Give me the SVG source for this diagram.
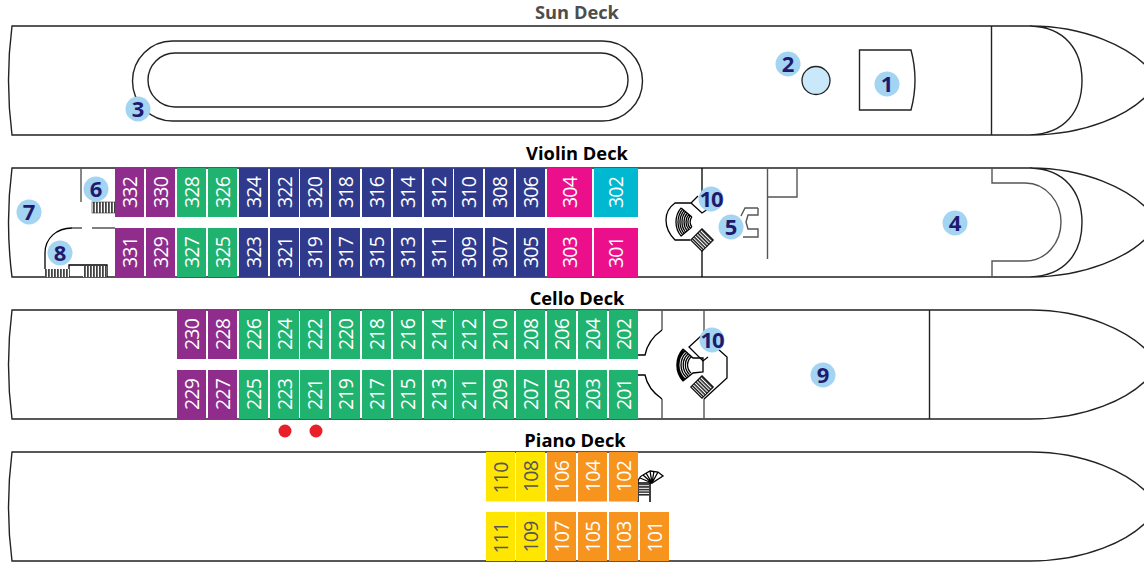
<svg xmlns="http://www.w3.org/2000/svg" width="1144" height="562" viewBox="0 0 1144 562">
<style>
text{font-family:"Open Sans","Liberation Sans",sans-serif}
.t{font-weight:700;font-size:18.300px;text-anchor:middle;fill:#000}
.l{fill:none;stroke:#222;stroke-width:1.4}
.w{fill:none;stroke:#555;stroke-width:1.4}
.k{fill:none;stroke:#000;stroke-width:1.3}
.c{font-size:19.500px;font-weight:500;letter-spacing:-.8px;text-anchor:middle;fill:#fff}
.cy{font-size:19.500px;font-weight:500;letter-spacing:-.8px;text-anchor:middle;fill:#555}
.p{fill:#8f2c8c}.g{fill:#1fb36f}.n{fill:#2f3a8c}.m{fill:#ec0f8c}.u{fill:#00b8d0}.y{fill:#ffe600}.o{fill:#f7941e}
.b{fill:#a3d4f2}
.bt{font-size:22px;font-weight:700;text-anchor:middle;fill:#1f1a6e}
</style>
<defs>
<pattern id="st" width="3" height="3" patternUnits="userSpaceOnUse"><rect width="3" height="3" fill="#fff"/><rect width="1.8" height="3" fill="#444"/></pattern>
<pattern id="sh" width="2.600" height="2.600" patternUnits="userSpaceOnUse"><rect width="2.600" height="2.600" fill="#fff"/><rect width="2.600" height="1.500" fill="#222"/></pattern>
</defs>
<g id="connectors">
<path class="l" d="M1030,26H12Q5,80 12,135H1030"/>
<path class="l" d="M1030,26C1085,26 1130,47 1150,70M1150,92C1130,115 1085,135 1030,135M1030,26C1065,27 1082,50 1082,80.500C1082,111 1065,134 1030,135M991.500,26V135"/>
<rect class="l" x="132.500" y="41" width="510" height="80" rx="40"/>
<rect class="l" x="148" y="53" width="480" height="54" rx="27"/>
<path class="l" d="M1030,168H12Q5,222 12,277H1030"/>
<path class="l" d="M1030,168C1085,168 1130,189 1150,212M1150,234C1130,257 1085,277 1030,277M1030,168C1065,169 1082,192 1082,222.500C1082,253 1065,276 1030,277"/>
<path class="w" d="M992,168V183H1025C1047,183 1061,203 1061,222C1061,242 1047,261 1025,261H992V277M81,168V202M72,228H82M92,228H115M767.500,168V259M767.500,197H797V168"/>
<path class="k" d="M45,269V253C45,238 57,228 72,228M69,277V265H107V277"/>
<path class="k" d="M702,168V195M702,251V277"/>
<path class="l" d="M1030,310H12Q5,365 12,419H1030M1030,310C1085,310 1130,331 1150,354M1150,376C1130,399 1085,419 1030,419M929.500,310V419"/>
<path class="w" d="M662,310V330M662,399V419M704,310V336M704,399V419"/>
<path class="k" d="M662,330C652,337 647,345 645,355H638M638,375H645C647,385 652,392 662,399"/>
<path class="l" d="M1030,452H12Q5,507 12,561H1030M1030,452C1085,452 1130,473 1150,496M1150,518C1130,541 1085,561 1030,561"/>
</g>
<g id="pool"><circle cx="816" cy="80.500" r="14" fill="#c9e8f9" stroke="#222" stroke-width="1.300"/></g>
<g id="bridge"><path class="l" d="M859.500,50H911Q915,65 915,80Q915,95 911,110H859.500Z"/></g>
<g id="stairs-aft">
<rect x="92" y="202" width="23" height="11" fill="url(#st)" stroke="#333" stroke-width=".6"/>
<rect x="45" y="269" width="24" height="8" fill="url(#st)"/>
<rect x="83" y="266" width="24" height="11" fill="url(#st)"/>
</g>
<g id="stairs-violin">
<path class="k" d="M691,203H675C668,208 666,214 666,220C666,228 670,235 675,240H690M691,203L698,196M691,203L702,213L708,209"/>
<path class="k" stroke-width="1.100" d="M691.900,216.900A8,8 0 0 0 691.900,227.100M690.300,215.500A10,10 0 0 0 690.300,228.500M688.800,214.300A12,12 0 0 0 688.800,229.700M687.300,213A14,14 0 0 0 687.300,231M685.700,211.700A16,16 0 0 0 685.700,232.300M684.200,210.400A18,18 0 0 0 684.200,233.600M682.700,209.100A20,20 0 0 0 682.700,234.900M681.100,207.900A22,22 0 0 0 681.100,236.100M681.100,207.900L691.900,216.900M681.100,236.100L691.900,227.100"/>
<rect x="-8" y="-8" width="16" height="16" transform="translate(702,240) rotate(45)" fill="url(#sh)" stroke="#000" stroke-width="1"/>
</g>
<g id="stairs-cello">
<path class="k" d="M701,336L689,347L703,361L708,357M718,349L727,357V378L704,399"/>
<path class="k" d="M691,357A11,11 0 0 0 691,373M689.500,355.500A13,13 0 0 0 689.500,374.500M688,354A15,15 0 0 0 688,376M686.500,352.500A17,17 0 0 0 686.500,377.500M685,351A19,19 0 0 0 685,379M684,350A21,21 0 0 0 684,380M683,349A24,24 0 0 0 683,381M683,349L693,358H703V372L693,373L683,381"/>
<rect x="-8" y="-8" width="16" height="16" transform="translate(702,387) rotate(45)" fill="url(#sh)" stroke="#000" stroke-width="1"/>
</g>
<g id="stairs-piano">
<path d="M638,502V483M650,502V483" stroke="#000" stroke-width="1.500" fill="none"/>
<rect x="639" y="484" width="10" height="12" fill="url(#sh)"/>
<path class="k" d="M638,483A9,9 0 0 1 643,475L650,471L658,472L663,476L652,483Z"/>
<path class="k" d="M640,478L652,483M643,475L652,483M646,473L652,483M650,471L652,483M654,471L652,483M658,472L652,483"/>
</g>
<g id="violin-top">
<g id="c332"><rect class="p" x="115" y="168" width="29" height="49"/><text class="c" transform="translate(129.500,192.500) rotate(-90)" dy=".36em">332</text></g>
<g id="c330"><rect class="p" x="146" y="168" width="29" height="49"/><text class="c" transform="translate(160.500,192.500) rotate(-90)" dy=".36em">330</text></g>
<g id="c328"><rect class="g" x="177" y="168" width="29" height="49"/><text class="c" transform="translate(191.500,192.500) rotate(-90)" dy=".36em">328</text></g>
<g id="c326"><rect class="g" x="208" y="168" width="29" height="49"/><text class="c" transform="translate(222.500,192.500) rotate(-90)" dy=".36em">326</text></g>
<g id="c324"><rect class="n" x="239" y="168" width="29" height="49"/><text class="c" transform="translate(253.500,192.500) rotate(-90)" dy=".36em">324</text></g>
<g id="c322"><rect class="n" x="270" y="168" width="29" height="49"/><text class="c" transform="translate(284.500,192.500) rotate(-90)" dy=".36em">322</text></g>
<g id="c320"><rect class="n" x="300" y="168" width="29" height="49"/><text class="c" transform="translate(314.500,192.500) rotate(-90)" dy=".36em">320</text></g>
<g id="c318"><rect class="n" x="331" y="168" width="29" height="49"/><text class="c" transform="translate(345.500,192.500) rotate(-90)" dy=".36em">318</text></g>
<g id="c316"><rect class="n" x="362" y="168" width="29" height="49"/><text class="c" transform="translate(376.500,192.500) rotate(-90)" dy=".36em">316</text></g>
<g id="c314"><rect class="n" x="393" y="168" width="29" height="49"/><text class="c" transform="translate(407.500,192.500) rotate(-90)" dy=".36em">314</text></g>
<g id="c312"><rect class="n" x="424" y="168" width="29" height="49"/><text class="c" transform="translate(438.500,192.500) rotate(-90)" dy=".36em">312</text></g>
<g id="c310"><rect class="n" x="454" y="168" width="29" height="49"/><text class="c" transform="translate(468.500,192.500) rotate(-90)" dy=".36em">310</text></g>
<g id="c308"><rect class="n" x="485" y="168" width="29" height="49"/><text class="c" transform="translate(499.500,192.500) rotate(-90)" dy=".36em">308</text></g>
<g id="c306"><rect class="n" x="516" y="168" width="29" height="49"/><text class="c" transform="translate(530.500,192.500) rotate(-90)" dy=".36em">306</text></g>
<g id="c304"><rect class="m" x="547" y="168" width="45" height="49"/><text class="c" transform="translate(569.500,192.500) rotate(-90)" dy=".36em">304</text></g>
<g id="c302"><rect class="u" x="594" y="168" width="44" height="49"/><text class="c" transform="translate(616,192.500) rotate(-90)" dy=".36em">302</text></g>
</g>
<g id="violin-bottom">
<g id="c331"><rect class="p" x="115" y="228" width="29" height="49"/><text class="c" transform="translate(129.500,252.500) rotate(-90)" dy=".36em">331</text></g>
<g id="c329"><rect class="p" x="146" y="228" width="29" height="49"/><text class="c" transform="translate(160.500,252.500) rotate(-90)" dy=".36em">329</text></g>
<g id="c327"><rect class="g" x="177" y="228" width="29" height="49"/><text class="c" transform="translate(191.500,252.500) rotate(-90)" dy=".36em">327</text></g>
<g id="c325"><rect class="g" x="208" y="228" width="29" height="49"/><text class="c" transform="translate(222.500,252.500) rotate(-90)" dy=".36em">325</text></g>
<g id="c323"><rect class="n" x="239" y="228" width="29" height="49"/><text class="c" transform="translate(253.500,252.500) rotate(-90)" dy=".36em">323</text></g>
<g id="c321"><rect class="n" x="270" y="228" width="29" height="49"/><text class="c" transform="translate(284.500,252.500) rotate(-90)" dy=".36em">321</text></g>
<g id="c319"><rect class="n" x="300" y="228" width="29" height="49"/><text class="c" transform="translate(314.500,252.500) rotate(-90)" dy=".36em">319</text></g>
<g id="c317"><rect class="n" x="331" y="228" width="29" height="49"/><text class="c" transform="translate(345.500,252.500) rotate(-90)" dy=".36em">317</text></g>
<g id="c315"><rect class="n" x="362" y="228" width="29" height="49"/><text class="c" transform="translate(376.500,252.500) rotate(-90)" dy=".36em">315</text></g>
<g id="c313"><rect class="n" x="393" y="228" width="29" height="49"/><text class="c" transform="translate(407.500,252.500) rotate(-90)" dy=".36em">313</text></g>
<g id="c311"><rect class="n" x="424" y="228" width="29" height="49"/><text class="c" transform="translate(438.500,252.500) rotate(-90)" dy=".36em">311</text></g>
<g id="c309"><rect class="n" x="454" y="228" width="29" height="49"/><text class="c" transform="translate(468.500,252.500) rotate(-90)" dy=".36em">309</text></g>
<g id="c307"><rect class="n" x="485" y="228" width="29" height="49"/><text class="c" transform="translate(499.500,252.500) rotate(-90)" dy=".36em">307</text></g>
<g id="c305"><rect class="n" x="516" y="228" width="29" height="49"/><text class="c" transform="translate(530.500,252.500) rotate(-90)" dy=".36em">305</text></g>
<g id="c303"><rect class="m" x="547" y="228" width="45" height="49"/><text class="c" transform="translate(569.500,252.500) rotate(-90)" dy=".36em">303</text></g>
<g id="c301"><rect class="m" x="594" y="228" width="44" height="49"/><text class="c" transform="translate(616,252.500) rotate(-90)" dy=".36em">301</text></g>
</g>
<g id="cello-top">
<g id="c230"><rect class="p" x="177" y="310" width="29" height="49"/><text class="c" transform="translate(191.500,334.500) rotate(-90)" dy=".36em">230</text></g>
<g id="c228"><rect class="p" x="208" y="310" width="29" height="49"/><text class="c" transform="translate(222.500,334.500) rotate(-90)" dy=".36em">228</text></g>
<g id="c226"><rect class="g" x="239" y="310" width="29" height="49"/><text class="c" transform="translate(253.500,334.500) rotate(-90)" dy=".36em">226</text></g>
<g id="c224"><rect class="g" x="270" y="310" width="29" height="49"/><text class="c" transform="translate(284.500,334.500) rotate(-90)" dy=".36em">224</text></g>
<g id="c222"><rect class="g" x="300" y="310" width="29" height="49"/><text class="c" transform="translate(314.500,334.500) rotate(-90)" dy=".36em">222</text></g>
<g id="c220"><rect class="g" x="331" y="310" width="29" height="49"/><text class="c" transform="translate(345.500,334.500) rotate(-90)" dy=".36em">220</text></g>
<g id="c218"><rect class="g" x="362" y="310" width="29" height="49"/><text class="c" transform="translate(376.500,334.500) rotate(-90)" dy=".36em">218</text></g>
<g id="c216"><rect class="g" x="393" y="310" width="29" height="49"/><text class="c" transform="translate(407.500,334.500) rotate(-90)" dy=".36em">216</text></g>
<g id="c214"><rect class="g" x="424" y="310" width="29" height="49"/><text class="c" transform="translate(438.500,334.500) rotate(-90)" dy=".36em">214</text></g>
<g id="c212"><rect class="g" x="454" y="310" width="29" height="49"/><text class="c" transform="translate(468.500,334.500) rotate(-90)" dy=".36em">212</text></g>
<g id="c210"><rect class="g" x="485" y="310" width="29" height="49"/><text class="c" transform="translate(499.500,334.500) rotate(-90)" dy=".36em">210</text></g>
<g id="c208"><rect class="g" x="516" y="310" width="29" height="49"/><text class="c" transform="translate(530.500,334.500) rotate(-90)" dy=".36em">208</text></g>
<g id="c206"><rect class="g" x="547" y="310" width="29" height="49"/><text class="c" transform="translate(561.500,334.500) rotate(-90)" dy=".36em">206</text></g>
<g id="c204"><rect class="g" x="578" y="310" width="29" height="49"/><text class="c" transform="translate(592.500,334.500) rotate(-90)" dy=".36em">204</text></g>
<g id="c202"><rect class="g" x="609" y="310" width="29" height="49"/><text class="c" transform="translate(623.500,334.500) rotate(-90)" dy=".36em">202</text></g>
</g>
<g id="cello-bottom">
<g id="c229"><rect class="p" x="177" y="370" width="29" height="49"/><text class="c" transform="translate(191.500,394.500) rotate(-90)" dy=".36em">229</text></g>
<g id="c227"><rect class="p" x="208" y="370" width="29" height="49"/><text class="c" transform="translate(222.500,394.500) rotate(-90)" dy=".36em">227</text></g>
<g id="c225"><rect class="g" x="239" y="370" width="29" height="49"/><text class="c" transform="translate(253.500,394.500) rotate(-90)" dy=".36em">225</text></g>
<g id="c223"><rect class="g" x="270" y="370" width="29" height="49"/><text class="c" transform="translate(284.500,394.500) rotate(-90)" dy=".36em">223</text></g>
<g id="c221"><rect class="g" x="300" y="370" width="29" height="49"/><text class="c" transform="translate(314.500,394.500) rotate(-90)" dy=".36em">221</text></g>
<g id="c219"><rect class="g" x="331" y="370" width="29" height="49"/><text class="c" transform="translate(345.500,394.500) rotate(-90)" dy=".36em">219</text></g>
<g id="c217"><rect class="g" x="362" y="370" width="29" height="49"/><text class="c" transform="translate(376.500,394.500) rotate(-90)" dy=".36em">217</text></g>
<g id="c215"><rect class="g" x="393" y="370" width="29" height="49"/><text class="c" transform="translate(407.500,394.500) rotate(-90)" dy=".36em">215</text></g>
<g id="c213"><rect class="g" x="424" y="370" width="29" height="49"/><text class="c" transform="translate(438.500,394.500) rotate(-90)" dy=".36em">213</text></g>
<g id="c211"><rect class="g" x="454" y="370" width="29" height="49"/><text class="c" transform="translate(468.500,394.500) rotate(-90)" dy=".36em">211</text></g>
<g id="c209"><rect class="g" x="485" y="370" width="29" height="49"/><text class="c" transform="translate(499.500,394.500) rotate(-90)" dy=".36em">209</text></g>
<g id="c207"><rect class="g" x="516" y="370" width="29" height="49"/><text class="c" transform="translate(530.500,394.500) rotate(-90)" dy=".36em">207</text></g>
<g id="c205"><rect class="g" x="547" y="370" width="29" height="49"/><text class="c" transform="translate(561.500,394.500) rotate(-90)" dy=".36em">205</text></g>
<g id="c203"><rect class="g" x="578" y="370" width="29" height="49"/><text class="c" transform="translate(592.500,394.500) rotate(-90)" dy=".36em">203</text></g>
<g id="c201"><rect class="g" x="609" y="370" width="29" height="49"/><text class="c" transform="translate(623.500,394.500) rotate(-90)" dy=".36em">201</text></g>
</g>
<g id="piano">
<g id="c110"><rect class="y" x="486" y="452" width="29" height="49.500"/><text class="cy" transform="translate(500.500,478) rotate(-90)" dy=".36em">110</text></g>
<g id="c108"><rect class="y" x="516" y="452" width="29" height="49.500"/><text class="cy" transform="translate(530.500,476.500) rotate(-90)" dy=".36em">108</text></g>
<g id="c106"><rect class="o" x="547" y="452" width="29" height="49.500"/><text class="c" transform="translate(561.500,476.500) rotate(-90)" dy=".36em">106</text></g>
<g id="c104"><rect class="o" x="578" y="452" width="29" height="49.500"/><text class="c" transform="translate(592.500,476.500) rotate(-90)" dy=".36em">104</text></g>
<g id="c102"><rect class="o" x="609" y="452" width="29" height="49.500"/><text class="c" transform="translate(623.500,476.500) rotate(-90)" dy=".36em">102</text></g>
<g id="c111"><rect class="y" x="486" y="512" width="29" height="49"/><text class="cy" transform="translate(500.500,538) rotate(-90)" dy=".36em">111</text></g>
<g id="c109"><rect class="y" x="516" y="512" width="29" height="49"/><text class="cy" transform="translate(530.500,537) rotate(-90)" dy=".36em">109</text></g>
<g id="c107"><rect class="o" x="547" y="512" width="29" height="49"/><text class="c" transform="translate(561.500,537) rotate(-90)" dy=".36em">107</text></g>
<g id="c105"><rect class="o" x="578" y="512" width="29" height="49"/><text class="c" transform="translate(592.500,537) rotate(-90)" dy=".36em">105</text></g>
<g id="c103"><rect class="o" x="609" y="512" width="29" height="49"/><text class="c" transform="translate(623.500,537) rotate(-90)" dy=".36em">103</text></g>
<g id="c101"><rect class="o" x="640" y="512" width="29" height="49"/><text class="c" transform="translate(654.500,537) rotate(-90)" dy=".36em">101</text></g>
</g>
<g id="lounge5"><path class="w" stroke-width="1" d="M758,208H745L741,216M758,208V215H748L746,222L748,229H758V237H743"/></g>
<g id="m1"><circle class="b" cx="887" cy="84" r="12.500"/><text class="bt" x="887" y="92">1</text></g>
<g id="m2"><circle class="b" cx="788" cy="64" r="12.500"/><text class="bt" x="788" y="72">2</text></g>
<g id="m3"><circle class="b" cx="138" cy="109" r="12.500"/><text class="bt" x="138" y="117">3</text></g>
<g id="m4"><circle class="b" cx="955" cy="223" r="12.500"/><text class="bt" x="955" y="231">4</text></g>
<g id="m5"><circle class="b" cx="731" cy="227" r="12.500"/><text class="bt" x="731" y="235">5</text></g>
<g id="m6"><circle class="b" cx="96" cy="189" r="12.500"/><text class="bt" x="96" y="197">6</text></g>
<g id="m7"><circle class="b" cx="29" cy="212" r="12.500"/><text class="bt" x="29" y="220">7</text></g>
<g id="m8"><circle class="b" cx="60" cy="253" r="12.500"/><text class="bt" x="60" y="261">8</text></g>
<g id="m9"><circle class="b" cx="823" cy="375" r="12.500"/><text class="bt" x="823" y="383">9</text></g>
<g id="m10a"><circle class="b" cx="711" cy="199" r="12.500"/><text class="bt" x="711" y="207" letter-spacing="-1">10</text></g>
<g id="m10b"><circle class="b" cx="712" cy="340" r="12.500"/><text class="bt" x="712" y="348" letter-spacing="-1">10</text></g>
<g id="dots"><circle cx="285" cy="431" r="6.500" fill="#e8202a"/><circle cx="316" cy="431" r="6.500" fill="#e8202a"/></g>
<g id="titles">
<text class="t" x="577" y="19" style="fill:#4d4d4d">Sun Deck</text>
<text class="t" x="577" y="160">Violin Deck</text>
<text class="t" x="577" y="305">Cello Deck</text>
<text class="t" x="575" y="447">Piano Deck</text>
</g>
</svg>
